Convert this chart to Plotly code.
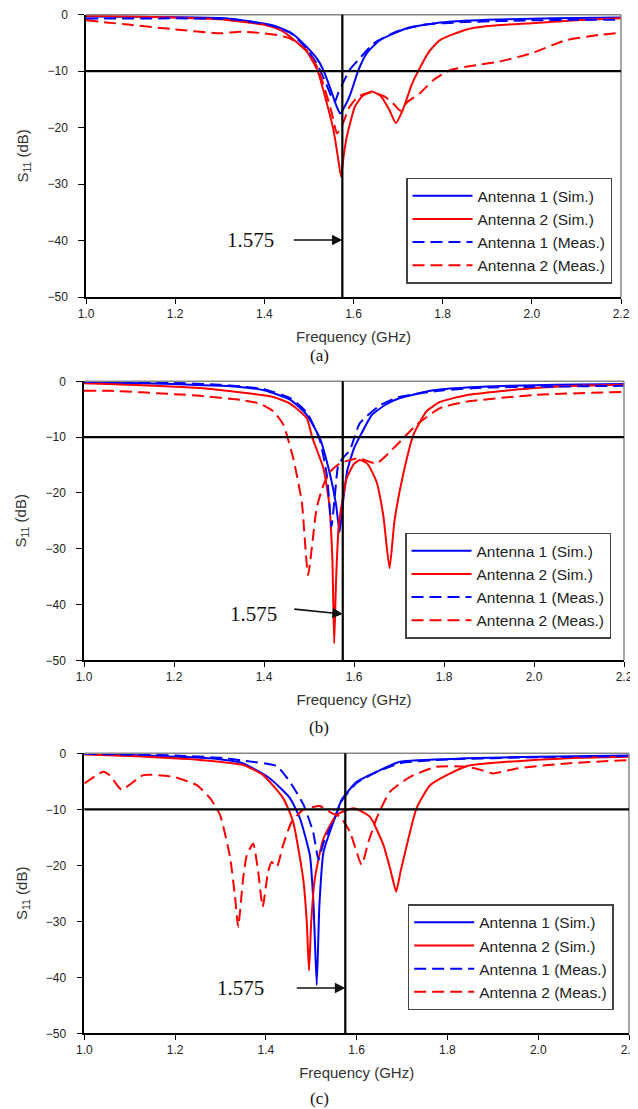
import plotly.graph_objects as go

# ---------------- Panel (a) ----------------
a_ant1_sim_f = [1.0, 1.1, 1.2, 1.3, 1.35, 1.42, 1.46, 1.495, 1.52, 1.535, 1.55, 1.562, 1.57, 1.58, 1.592, 1.611, 1.63, 1.659, 1.72, 1.794, 1.9, 2.0, 2.1, 2.2]
a_ant1_sim_db = [-0.3, -0.35, -0.45, -0.6, -1.0, -1.9, -3.2, -5.7, -8.0, -10.3, -13.5, -16.2, -17.5, -16.3, -14.3, -9.8, -6.8, -4.5, -2.4, -1.4, -0.9, -0.7, -0.6, -0.5]

a_ant2_sim_f = [1.0, 1.1, 1.2, 1.3, 1.4, 1.435, 1.458, 1.495, 1.52, 1.532, 1.555, 1.566, 1.572, 1.578, 1.585, 1.603, 1.62, 1.641, 1.66, 1.68, 1.695, 1.71, 1.73, 1.745, 1.77, 1.794, 1.85, 1.9, 2.0, 2.1, 2.2]
a_ant2_sim_db = [-0.2, -0.3, -0.5, -0.8, -1.8, -2.7, -3.9, -6.5, -10.0, -13.3, -20.4, -25.7, -28.7, -25.0, -21.6, -16.3, -14.4, -13.6, -14.3, -16.8, -19.2, -17.0, -12.5, -10.0, -6.5, -4.5, -2.7, -2.0, -1.5, -1.0, -0.65]

a_ant1_meas_f = [1.0, 1.2, 1.3, 1.35, 1.42, 1.46, 1.495, 1.52, 1.54, 1.552, 1.5585, 1.566, 1.58, 1.592, 1.611, 1.645, 1.696, 1.757, 1.85, 2.0, 2.1, 2.2]
a_ant1_meas_db = [-0.7, -0.65, -0.7, -1.0, -2.0, -3.3, -6.0, -9.0, -12.5, -14.8, -15.4, -13.8, -11.5, -9.7, -8.0, -5.1, -3.0, -1.8, -1.3, -1.0, -0.9, -0.9]

a_ant2_meas_f = [1.0, 1.1, 1.2, 1.3, 1.345, 1.4, 1.435, 1.46, 1.495, 1.52, 1.535, 1.55, 1.563, 1.575, 1.59, 1.61, 1.64, 1.67, 1.69, 1.705, 1.72, 1.749, 1.779, 1.817, 1.87, 1.928, 2.0, 2.077, 2.15, 2.2]
a_ant2_meas_db = [-1.0, -1.8, -2.6, -3.3, -3.0, -3.3, -3.7, -4.3, -6.3, -9.5, -13.0, -17.0, -21.0, -19.5, -16.5, -14.5, -13.8, -14.5, -15.8, -17.0, -15.5, -13.9, -11.6, -9.8, -9.0, -8.3, -6.8, -4.5, -3.6, -3.2]

# ---------------- Panel (b) ----------------
b_ant1_sim_f = [1.0, 1.1, 1.2, 1.3, 1.347, 1.4, 1.458, 1.495, 1.524, 1.547, 1.56, 1.568, 1.575, 1.585, 1.6, 1.613, 1.64, 1.67, 1.702, 1.776, 1.85, 1.95, 2.05, 2.2]
b_ant1_sim_db = [-0.2, -0.3, -0.5, -0.8, -1.0, -1.6, -3.3, -6.0, -10.2, -16.8, -22.0, -27.0, -22.0, -16.0, -12.0, -9.9, -6.0, -4.2, -3.0, -1.6, -1.1, -0.8, -0.6, -0.5]

b_ant2_sim_f = [1.0, 1.1, 1.258, 1.35, 1.421, 1.458, 1.495, 1.507, 1.532, 1.545, 1.552, 1.556, 1.56, 1.566, 1.575, 1.584, 1.6, 1.613, 1.63, 1.65, 1.665, 1.679, 1.69, 1.709, 1.732, 1.761, 1.791, 1.85, 2.0, 2.1, 2.2]
b_ant2_sim_db = [-0.35, -0.6, -1.2, -2.0, -2.8, -4.0, -6.6, -10.0, -15.6, -22.0, -32.0, -47.0, -36.0, -26.0, -21.0, -17.3, -14.8, -14.1, -14.8, -18.0, -24.0, -33.5, -25.0, -16.8, -9.6, -5.4, -3.7, -2.5, -1.2, -0.8, -0.6]

b_ant1_meas_f = [1.0, 1.2, 1.3, 1.347, 1.4, 1.458, 1.495, 1.524, 1.54, 1.55, 1.558, 1.565, 1.575, 1.591, 1.613, 1.658, 1.7, 1.8, 1.9, 2.0, 2.2]
b_ant1_meas_db = [-0.1, -0.3, -0.6, -0.9, -1.4, -3.0, -5.6, -10.5, -17.0, -26.0, -20.0, -15.0, -13.8, -12.3, -7.5, -4.3, -2.8, -1.6, -1.1, -1.0, -0.8]

b_ant2_meas_f = [1.0, 1.058, 1.2, 1.258, 1.347, 1.391, 1.421, 1.443, 1.465, 1.484, 1.498, 1.517, 1.532, 1.547, 1.569, 1.61, 1.65, 1.695, 1.739, 1.791, 1.85, 2.0, 2.2]
b_ant2_meas_db = [-1.7, -1.7, -2.3, -2.6, -3.35, -4.0, -5.4, -7.8, -13.8, -21.6, -34.7, -22.7, -18.6, -16.2, -14.7, -13.8, -14.7, -11.4, -7.8, -4.8, -3.65, -2.45, -1.9]

# ---------------- Panel (c) ----------------
c_ant1_sim_f = [1.0, 1.1, 1.2, 1.277, 1.35, 1.409, 1.453, 1.475, 1.497, 1.505, 1.512, 1.518, 1.527, 1.549, 1.567, 1.6, 1.644, 1.695, 1.842, 2.0, 2.2]
c_ant1_sim_db = [-0.1, -0.3, -0.6, -0.9, -1.8, -4.5, -8.0, -11.6, -18.2, -27.0, -41.4, -27.0, -17.6, -12.2, -8.3, -5.1, -3.3, -1.5, -0.9, -0.6, -0.4]

c_ant2_sim_f = [1.0, 1.1, 1.255, 1.35, 1.394, 1.438, 1.46, 1.482, 1.49, 1.495, 1.5, 1.508, 1.527, 1.556, 1.593, 1.629, 1.659, 1.675, 1.687, 1.697, 1.707, 1.732, 1.762, 1.842, 1.989, 2.1, 2.2]
c_ant2_sim_db = [-0.2, -0.5, -1.2, -2.1, -3.9, -8.0, -12.2, -22.3, -30.0, -38.8, -30.0, -22.3, -15.2, -11.0, -9.8, -11.3, -16.4, -21.0, -24.7, -21.0, -17.6, -9.8, -5.7, -2.3, -1.2, -0.8, -0.6]

c_ant1_meas_f = [1.0, 1.2, 1.3, 1.35, 1.424, 1.453, 1.483, 1.504, 1.516, 1.525, 1.534, 1.55, 1.567, 1.6, 1.645, 1.7, 1.8, 2.0, 2.2]
c_ant1_meas_db = [-0.1, -0.4, -0.8, -1.3, -2.3, -5.1, -9.2, -14.0, -19.0, -16.5, -14.6, -12.0, -8.5, -5.3, -3.3, -1.7, -1.1, -0.7, -0.5]

c_ant2_meas_f = [1.0, 1.042, 1.057, 1.082, 1.13, 1.196, 1.248, 1.277, 1.299, 1.321, 1.332, 1.339, 1.35, 1.358, 1.372, 1.383, 1.393, 1.405, 1.413, 1.424, 1.438, 1.457, 1.482, 1.519, 1.545, 1.563, 1.585, 1.611, 1.626, 1.644, 1.673, 1.718, 1.776, 1.842, 1.875, 1.901, 1.953, 2.063, 2.2]
c_ant2_meas_db = [-5.4, -3.3, -4.0, -6.5, -3.9, -4.2, -5.7, -8.0, -11.0, -18.5, -25.6, -31.0, -22.3, -18.2, -16.1, -21.1, -27.4, -21.1, -19.4, -20.3, -16.4, -12.2, -10.1, -9.4, -10.7, -11.3, -14.0, -19.9, -15.8, -11.6, -6.9, -4.2, -2.4, -2.4, -3.0, -3.6, -2.7, -1.8, -1.2]

series_names = ["Antenna 1 (Sim.)", "Antenna 2 (Sim.)", "Antenna 1 (Meas.)", "Antenna 2 (Meas.)"]
x_ticks = [1.0, 1.2, 1.4, 1.6, 1.8, 2.0, 2.2]
y_ticks = [0, -10, -20, -30, -40, -50]
panel_labels = ["(a)", "(b)", "(c)"]
gps_freq = 1.575
threshold_db = -10
arrow_db = [-39.9, -41.7, -41.9]
arrow_text_f = [1.37, 1.376, 1.345]

panels = [
    [(a_ant1_sim_f, a_ant1_sim_db), (a_ant2_sim_f, a_ant2_sim_db), (a_ant1_meas_f, a_ant1_meas_db), (a_ant2_meas_f, a_ant2_meas_db)],
    [(b_ant1_sim_f, b_ant1_sim_db), (b_ant2_sim_f, b_ant2_sim_db), (b_ant1_meas_f, b_ant1_meas_db), (b_ant2_meas_f, b_ant2_meas_db)],
    [(c_ant1_sim_f, c_ant1_sim_db), (c_ant2_sim_f, c_ant2_sim_db), (c_ant1_meas_f, c_ant1_meas_db), (c_ant2_meas_f, c_ant2_meas_db)],
]

# The page body has an 8px default margin: lay out in window pixels, shift by OFF.
OFF = 8
W, H = 630, 1101
# plot areas in window pixels: (left, right, top, bottom)
boxes = [(86, 621, 14.7, 297.0), (84, 624, 381.3, 660.3), (84.3, 629, 753.3, 1033.3)]
legend_pos = [(406, 177.7), (405, 532.7), (407.7, 904.3)]
caption_y = [355, 727, 1098]
colors = ["#0000ff", "#ff0000", "#0000ff", "#ff0000"]
dashes = ["solid", "solid", "12px,6px", "12px,6px"]


def fx(px):
    return (px - OFF) / W


def fy(py):
    return 1 - (py - OFF) / H


fig = go.Figure()
tick_font = dict(family="Liberation Sans, Arial", size=12, color="#222222")
title_font = dict(family="Liberation Sans, Arial", size=15, color="#333333")

for p, data in enumerate(panels):
    sfx = "" if p == 0 else str(p + 1)
    xa, ya = "x" + sfx, "y" + sfx
    leg = "legend" + sfx
    for k, (f, db) in enumerate(data):
        fig.add_trace(go.Scatter(
            x=f, y=db, mode="lines", name=series_names[k],
            line=dict(color=colors[k], width=2, dash=dashes[k], shape="spline", smoothing=0.5),
            xaxis=xa, yaxis=ya, legend=leg,
        ))
    l, r, t, b = boxes[p]
    fig.update_layout(**{
        "xaxis" + sfx: dict(
            domain=[fx(l), fx(r)], range=[1.0, 2.2], anchor=ya, automargin=False,
            tickvals=x_ticks, tickformat=".1f", ticks="outside", ticklen=5, tickwidth=1.2,
            tickcolor="#000", showline=True, linecolor="#000", linewidth=1.5,
            showgrid=False, zeroline=False, tickfont=tick_font, ticklabeloverflow="allow",
            title=dict(text="Frequency (GHz)", font=title_font, standoff=11),
        ),
        "yaxis" + sfx: dict(
            domain=[fy(b), fy(t)], range=[-50, 0], anchor=xa, automargin=False,
            tickvals=y_ticks, ticks="outside", ticklen=6, tickwidth=1.2, tickcolor="#000",
            showline=True, linecolor="#000", linewidth=1.5, showgrid=False, zeroline=False,
            tickfont=tick_font, ticklabelstandoff=8, ticklabeloverflow="allow",
            title=dict(text="S<sub>11</sub> (dB)", font=title_font, standoff=15),
        ),
        leg: dict(
            x=fx(legend_pos[p][0]), y=fy(legend_pos[p][1]), xanchor="left", yanchor="top",
            xref="paper", yref="paper",
            bordercolor="#444444", borderwidth=1.5, bgcolor="white",
            font=dict(family="Liberation Sans, Arial", size=15.5, color="#222222"),
            itemwidth=60, tracegroupgap=0,
        ),
    })
    # frame top/right (grey)
    fig.add_shape(type="line", xref=xa + " domain", yref=ya + " domain", x0=0, x1=1, y0=1, y1=1,
                  line=dict(color="#888888", width=1.5))
    fig.add_shape(type="line", xref=xa + " domain", yref=ya + " domain", x0=1, x1=1, y0=0, y1=1,
                  line=dict(color="#888888", width=1.5))
    # -10 dB threshold and 1.575 GHz marker
    fig.add_shape(type="line", xref=xa + " domain", yref=ya, x0=0, x1=1, y0=threshold_db, y1=threshold_db,
                  line=dict(color="#000", width=2.2))
    fig.add_shape(type="line", xref=xa, yref=ya + " domain", x0=gps_freq, x1=gps_freq, y0=0, y1=1,
                  line=dict(color="#000", width=2.2))
    # arrow
    fig.add_annotation(x=gps_freq, y=arrow_db[p], xref=xa, yref=ya, text="", showarrow=True,
                       ax=-50, ay=0 if p != 1 else -5, arrowhead=2, arrowsize=1.3, arrowwidth=1.6,
                       arrowcolor="#111")
    fig.add_annotation(x=arrow_text_f[p], y=arrow_db[p], xref=xa, yref=ya, text="1.575", showarrow=False,
                       font=dict(family="Liberation Serif, Times New Roman", size=21, color="#111"))
    # caption
    fig.add_annotation(x=fx(319), y=fy(caption_y[p]), xref="paper", yref="paper", text=panel_labels[p],
                       showarrow=False, yanchor="middle",
                       font=dict(family="Liberation Serif, Times New Roman", size=17, color="#111"))

fig.update_layout(width=W, height=H, margin=dict(l=0, r=0, t=0, b=0),
                  paper_bgcolor="white", plot_bgcolor="white", showlegend=True)
fig.write_html("out.html")
